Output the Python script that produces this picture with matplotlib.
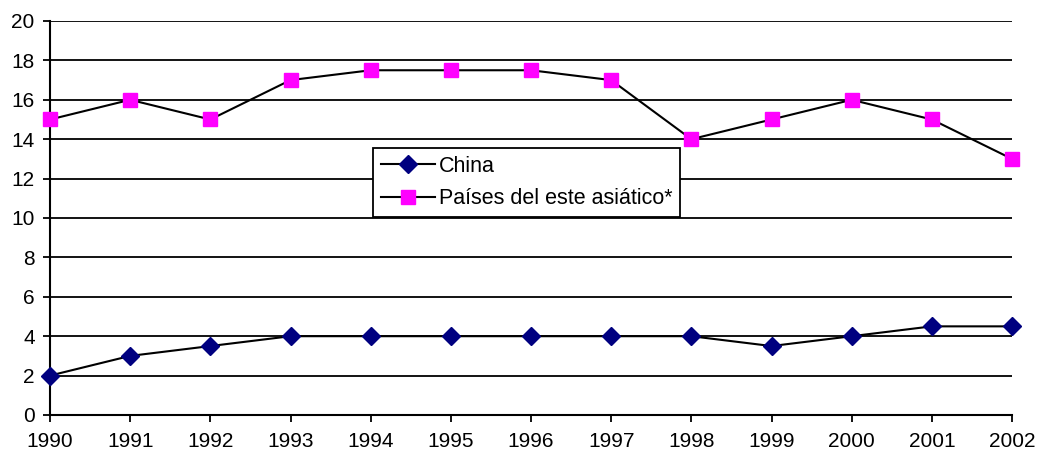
import matplotlib
matplotlib.use("Agg")
import matplotlib.pyplot as plt

years = [1990, 1991, 1992, 1993, 1994, 1995, 1996, 1997, 1998, 1999, 2000, 2001, 2002]
china = [2, 3, 3.5, 4, 4, 4, 4, 4, 4, 3.5, 4, 4.5, 4.5]
asia = [15, 16, 15, 17, 17.5, 17.5, 17.5, 17, 14, 15, 16, 15, 13]
yticks = list(range(0, 21, 2))

plt.rcParams['font.family'] = ['Liberation Sans', 'DejaVu Sans']

fig = plt.figure(figsize=(10.37, 4.54), dpi=100)
ax = fig.add_axes([50/1037, 1-415/454, 962/1037, 394/454])

for y in yticks[1:]:
    ax.axhline(y, color='black', lw=1.3, zorder=1)

ax.plot(years, china, color='black', lw=1.5, marker='D', ms=9,
        mfc='#000080', mec='#000080', label='China', zorder=3, clip_on=False)
ax.plot(years, asia, color='black', lw=1.5, marker='s', ms=10.5,
        mfc='#FF00FF', mec='#FF00FF', label='Países del este asiático*', zorder=3, clip_on=False)

ax.set_xlim(1990, 2002)
ax.set_ylim(0, 20)
ax.set_xticks(years)
ax.set_yticks(yticks)
ax.tick_params(axis='both', direction='out', length=5, width=1.3, labelsize=15, color='black')
ax.tick_params(axis='x', pad=7)
ax.tick_params(axis='y', pad=6)
for s in ['top', 'right']:
    ax.spines[s].set_visible(False)
for s in ['left', 'bottom']:
    ax.spines[s].set_linewidth(1.5)

leg = ax.legend(loc='lower left', bbox_to_anchor=(0.336, 0.5025), fontsize=15.5,
                frameon=True, fancybox=False, edgecolor='black', framealpha=1,
                borderpad=0.35, handlelength=2.5, handletextpad=0.2, labelspacing=0.55,
                borderaxespad=0)
leg.get_frame().set_linewidth(1.3)
leg.set_zorder(5)

fig.savefig('out.png', dpi=100)
